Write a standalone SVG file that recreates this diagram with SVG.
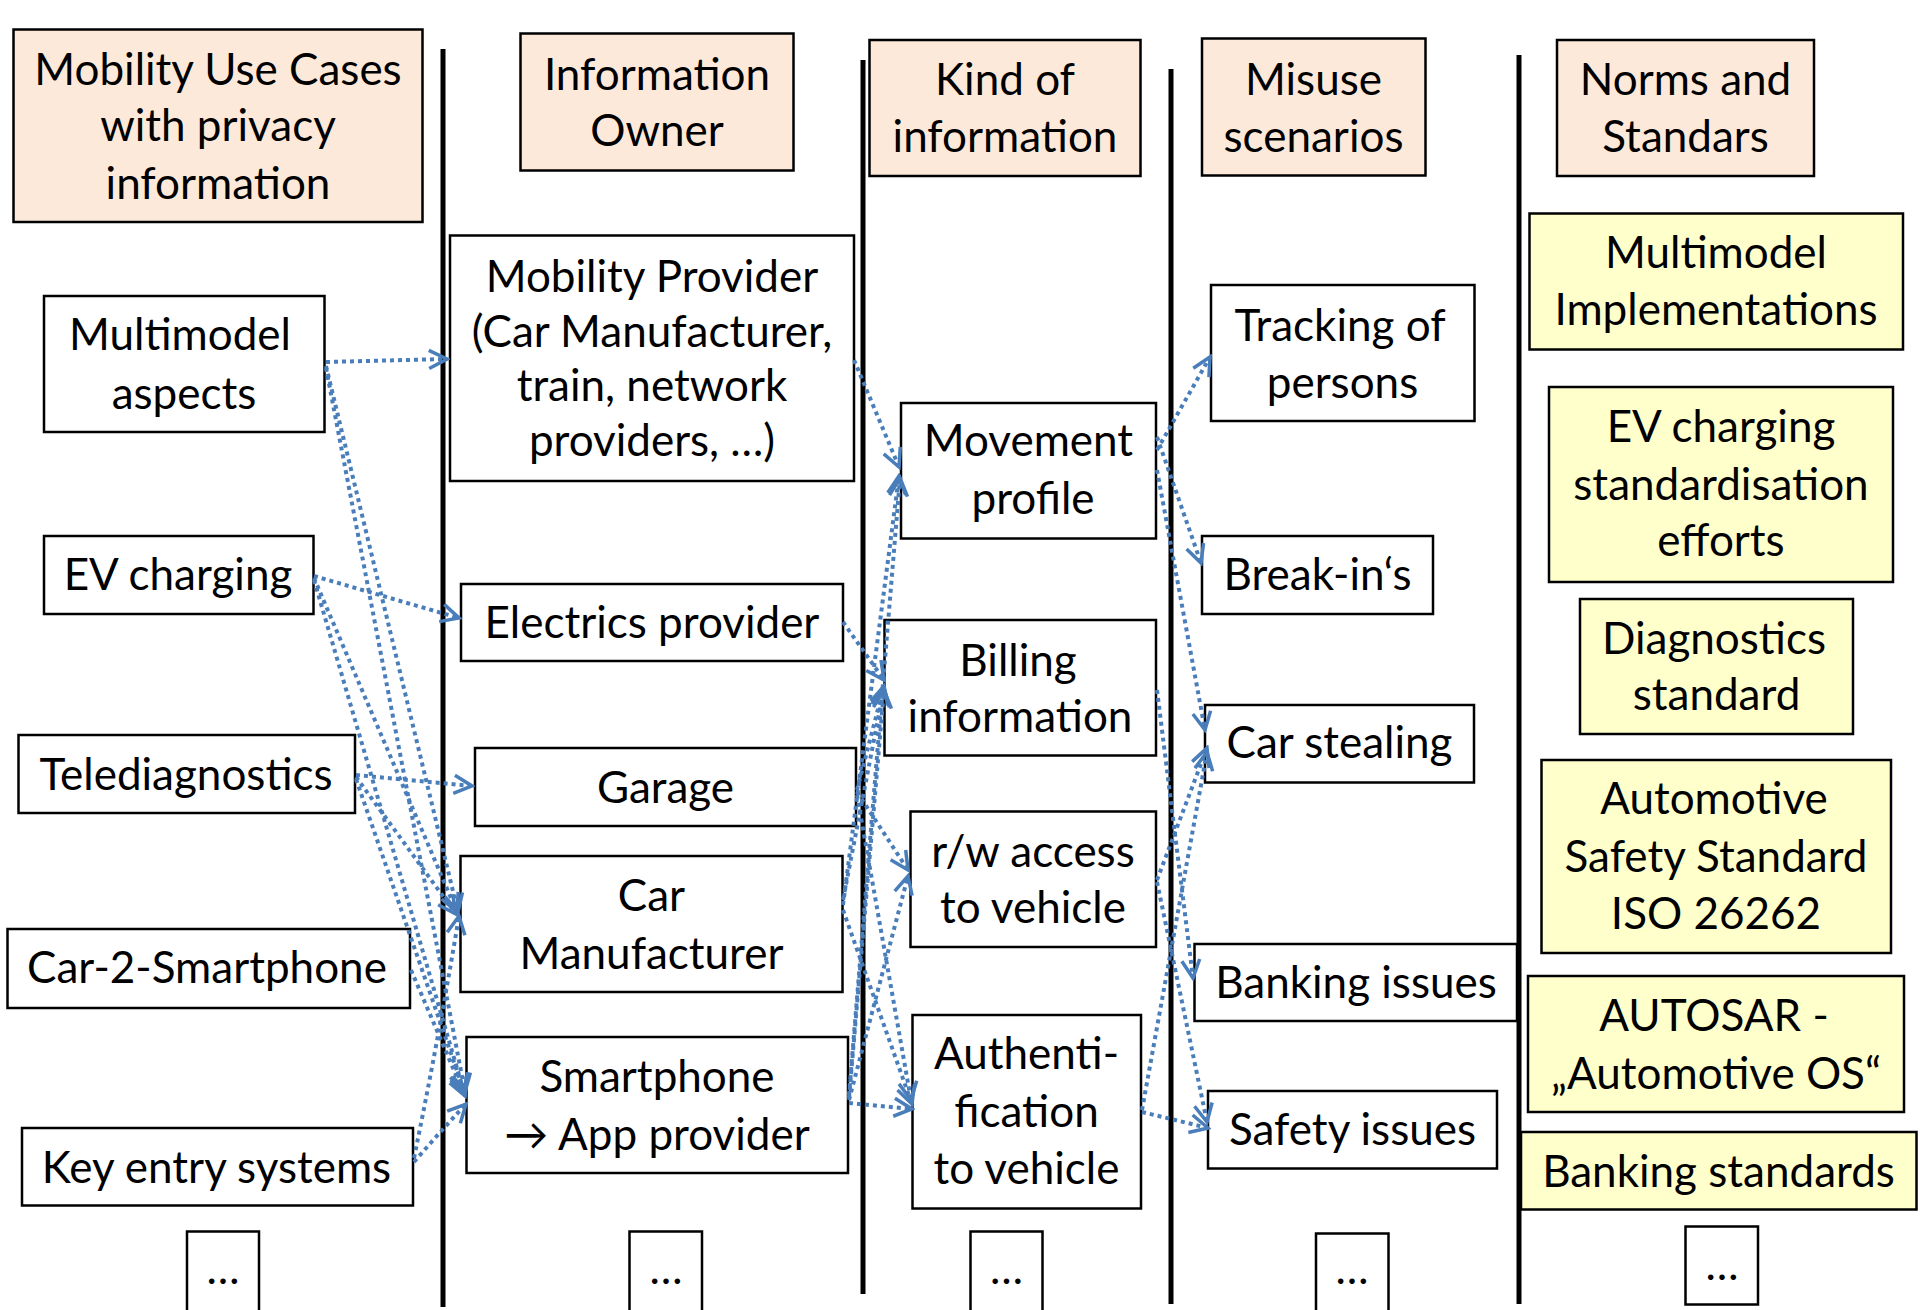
<svg xmlns="http://www.w3.org/2000/svg" width="1920" height="1310" viewBox="0 0 1920 1310">
<style>
text{font-family:"Lato","Liberation Sans",sans-serif;font-size:44px;fill:#000;text-anchor:middle}
.box{fill:#fff;stroke:#000;stroke-width:2.5}
.hdr{fill:#FDE9D9;stroke:#000;stroke-width:2.5}
.std{fill:#FFFFCC;stroke:#000;stroke-width:2.5}
.sep{stroke:#000;stroke-width:5}
.c{fill:none;stroke:#4A7EBB;stroke-width:4;stroke-dasharray:4 4;marker-end:url(#arr)}
</style>
<defs>
<marker id="arr" viewBox="0 0 24 24" refX="21" refY="12" markerWidth="24" markerHeight="24" markerUnits="userSpaceOnUse" orient="auto">
<path d="M3,3 L21,12 L3,21" fill="none" stroke="#4A7EBB" stroke-width="3.5"/>
</marker>
</defs>
<rect width="1920" height="1310" fill="#fff"/>
<g id="separators">
<line class="sep" x1="443" y1="49" x2="443" y2="1307"/>
<line class="sep" x1="863" y1="60" x2="863" y2="1294"/>
<line class="sep" x1="1171" y1="69" x2="1171" y2="1304"/>
<line class="sep" x1="1519" y1="55" x2="1519" y2="1304"/>
</g>
<g id="h1"><rect class="hdr" x="13.5" y="29.5" width="409" height="192.5"/><text x="218" y="85">Mobility Use Cases</text><text x="218" y="141">with privacy</text><text x="218" y="199">information</text></g>
<g id="h2"><rect class="hdr" x="520.5" y="33.5" width="273" height="137"/><text x="657" y="90">Information</text><text x="657" y="146">Owner</text></g>
<g id="h3"><rect class="hdr" x="869.5" y="40" width="271" height="136"/><text x="1005" y="95">Kind of</text><text x="1005" y="152">information</text></g>
<g id="h4"><rect class="hdr" x="1202" y="38.5" width="223.5" height="137"/><text x="1313.5" y="95">Misuse</text><text x="1313.5" y="152">scenarios</text></g>
<g id="h5"><rect class="hdr" x="1557" y="40" width="257" height="136"/><text x="1685.5" y="95">Norms and</text><text x="1685.5" y="152">Standars</text></g>

<g id="multimodel"><rect class="box" x="44" y="296" width="280.5" height="136"/><text x="180" y="350">Multimodel</text><text x="184" y="409">aspects</text></g>
<g id="ev"><rect class="box" x="44" y="536" width="269.5" height="78"/><text x="178" y="590">EV charging</text></g>
<g id="tele"><rect class="box" x="18.5" y="735" width="336.5" height="78"/><text x="186" y="790">Telediagnostics</text></g>
<g id="car2"><rect class="box" x="7.5" y="929" width="402.5" height="79"/><text x="207" y="983">Car-2-Smartphone</text></g>
<g id="key"><rect class="box" x="22" y="1128" width="391" height="77.5"/><text x="216.5" y="1183">Key entry systems</text></g>
<g id="more1"><rect class="box" x="187" y="1231.5" width="72" height="80"/><text x="223" y="1284">…</text></g>

<g id="mobprov"><rect class="box" x="450" y="235.5" width="404" height="245.5"/><text x="652" y="292">Mobility Provider</text><text x="652" y="347">(Car Manufacturer,</text><text x="652" y="401">train, network</text><text x="652" y="456">providers, …)</text></g>
<g id="elec"><rect class="box" x="461" y="584" width="382" height="77"/><text x="652" y="638">Electrics provider</text></g>
<g id="garage"><rect class="box" x="475" y="748" width="381" height="78"/><text x="665.5" y="803">Garage</text></g>
<g id="carman"><rect class="box" x="460.5" y="856" width="382" height="136"/><text x="651.5" y="911">Car</text><text x="651.5" y="969">Manufacturer</text></g>
<g id="smart"><rect class="box" x="466.5" y="1037" width="381.5" height="136"/><text x="657" y="1092">Smartphone</text><text x="657" y="1150">→ App provider</text></g>
<g id="more2"><rect class="box" x="629.5" y="1231.5" width="72.5" height="80"/><text x="666" y="1284">…</text></g>

<g id="movement"><rect class="box" x="901" y="403" width="255" height="135.5"/><text x="1028.5" y="456">Movement</text><text x="1033" y="514">profile</text></g>
<g id="billing"><rect class="box" x="884.5" y="620" width="271.5" height="135.5"/><text x="1018" y="676">Billing</text><text x="1020" y="732">information</text></g>
<g id="rw"><rect class="box" x="910.5" y="811.5" width="245.5" height="135.5"/><text x="1033" y="867">r/w access</text><text x="1033" y="923">to vehicle</text></g>
<g id="auth"><rect class="box" x="912.5" y="1015" width="228.5" height="193.5"/><text x="1026.5" y="1069">Authenti-</text><text x="1026.5" y="1127">fication</text><text x="1026.5" y="1184">to vehicle</text></g>
<g id="more3"><rect class="box" x="970.5" y="1231.5" width="72" height="80"/><text x="1006.5" y="1284">…</text></g>

<g id="tracking"><rect class="box" x="1211" y="285" width="263.5" height="136"/><text x="1340" y="341">Tracking of</text><text x="1342.5" y="398">persons</text></g>
<g id="breakin"><rect class="box" x="1202" y="536" width="231" height="78"/><text x="1317.5" y="590">Break-in‘s</text></g>
<g id="stealing"><rect class="box" x="1205" y="705" width="269" height="77.5"/><text x="1339.5" y="758">Car stealing</text></g>
<g id="banking"><rect class="box" x="1194.5" y="944" width="322.5" height="77"/><text x="1356" y="998">Banking issues</text></g>
<g id="safety"><rect class="box" x="1208" y="1091" width="289" height="77.5"/><text x="1352.5" y="1145">Safety issues</text></g>
<g id="more4"><rect class="box" x="1316" y="1233.5" width="72.5" height="80"/><text x="1352" y="1284">…</text></g>

<g id="s1"><rect class="std" x="1529.5" y="213.5" width="373.5" height="136"/><text x="1716" y="268">Multimodel</text><text x="1716" y="325">Implementations</text></g>
<g id="s2"><rect class="std" x="1549" y="387" width="344" height="195"/><text x="1721" y="442">EV charging</text><text x="1721" y="500">standardisation</text><text x="1721" y="556">efforts</text></g>
<g id="s3"><rect class="std" x="1580" y="599" width="273" height="135"/><text x="1714" y="654">Diagnostics</text><text x="1716.5" y="710">standard</text></g>
<g id="s4"><rect class="std" x="1541.5" y="760" width="349.5" height="193"/><text x="1714" y="814">Automotive</text><text x="1716" y="872">Safety Standard</text><text x="1716" y="929">ISO 26262</text></g>
<g id="s5"><rect class="std" x="1528" y="976" width="376" height="136"/><text x="1714" y="1031">AUTOSAR -</text><text x="1716" y="1089">„Automotive OS“</text></g>
<g id="s6"><rect class="std" x="1521" y="1132" width="395.5" height="77.5"/><text x="1718.5" y="1187">Banking standards</text></g>
<g id="more5"><rect class="box" x="1685.5" y="1226.5" width="72.5" height="78"/><text x="1722" y="1280">…</text></g>

<g id="connectors">
<path class="c" d="M326,362 L447,359"/>
<path class="c" d="M326,366 L458,912"/>
<path class="c" d="M326,368 L465,1092"/>
<path class="c" d="M314,576 L459,618"/>
<path class="c" d="M314,578 L457,912"/>
<path class="c" d="M314,580 L464,1092"/>
<path class="c" d="M356,775 L472,786"/>
<path class="c" d="M356,777 L456,914"/>
<path class="c" d="M356,779 L465,1094"/>
<path class="c" d="M411,970 L465,1096"/>
<path class="c" d="M414,1162 Q440,1132 466,1104"/>
<path class="c" d="M414,1158 C430,1080 445,1000 459,916"/>

<path class="c" d="M854,360 L899,467"/>
<path class="c" d="M843,905 L899,476"/>
<path class="c" d="M849,1095 L900,478"/>
<path class="c" d="M843,622 L884,680"/>
<path class="c" d="M857,790 L884,686"/>
<path class="c" d="M843,900 L884,688"/>
<path class="c" d="M849,1098 L884,690"/>
<path class="c" d="M857,792 L908,870"/>
<path class="c" d="M849,1100 L908,876"/>
<path class="c" d="M843,910 L912,1104"/>
<path class="c" d="M857,795 L911,1100"/>
<path class="c" d="M849,1103 L912,1109"/>

<path class="c" d="M1157,450 L1210,357"/>
<path class="c" d="M1157,437 L1201,563"/>
<path class="c" d="M1157,470 L1205,730"/>
<path class="c" d="M1157,690 L1193,978"/>
<path class="c" d="M1157,880 L1207,748"/>
<path class="c" d="M1142,1110 L1207,752"/>
<path class="c" d="M1157,882 L1207,1122"/>
<path class="c" d="M1142,1112 L1208,1128"/>
</g>
</svg>
